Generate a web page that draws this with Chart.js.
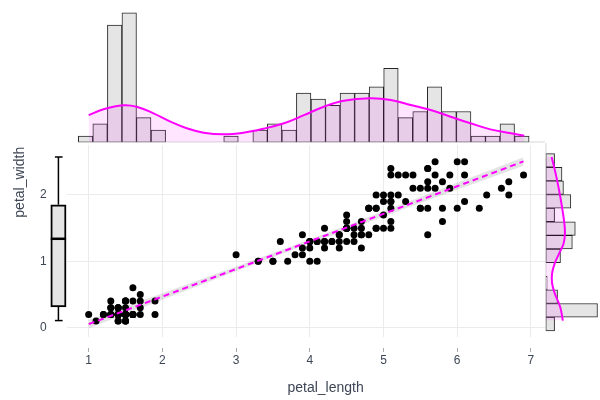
<!DOCTYPE html>
<html>
<head>
<meta charset="utf-8">
<script src="https://cdn.jsdelivr.net/npm/chart.js@4.4.1/dist/chart.umd.min.js"></script>
<style>
  body { margin: 0; background: #fff; }
  #wrap { position: relative; width: 600px; height: 400px; }
  canvas { position: absolute; }
  #main { left: 0; top: 0; }
  #top { left: 60px; top: 0; background: #fff; }
  #right { left: 545px; top: 143px; background: #fff; }
  #box { left: 45px; top: 145px; }
</style>
</head>
<body>
<div id="wrap">
  <canvas id="main" width="600" height="400"></canvas>
  <canvas id="top" width="540" height="145"></canvas>
  <canvas id="right" width="55" height="194"></canvas>
  <canvas id="box" width="22" height="192"></canvas>
</div>
<script>
// iris petals
const petalLength = [
  1.4,1.4,1.3,1.5,1.4,1.7,1.4,1.5,1.4,1.5, 1.5,1.6,1.4,1.1,1.2,1.5,1.3,1.4,1.7,1.5,
  1.7,1.5,1.0,1.7,1.9,1.6,1.6,1.5,1.4,1.6, 1.6,1.5,1.5,1.4,1.5,1.2,1.3,1.4,1.3,1.5,
  1.3,1.3,1.3,1.6,1.9,1.4,1.6,1.4,1.5,1.4,
  4.7,4.5,4.9,4.0,4.6,4.5,4.7,3.3,4.6,3.9, 3.5,4.2,4.0,4.7,3.6,4.4,4.5,4.1,4.5,3.9,
  4.8,4.0,4.9,4.7,4.3,4.4,4.8,5.0,4.5,3.5, 3.8,3.7,3.9,5.1,4.5,4.5,4.7,4.4,4.1,4.0,
  4.4,4.6,4.0,3.3,4.2,4.2,4.2,4.3,3.0,4.1,
  6.0,5.1,5.9,5.6,5.8,6.6,4.5,6.3,5.8,6.1, 5.1,5.3,5.5,5.0,5.1,5.3,5.5,6.7,6.9,5.0,
  5.7,4.9,6.7,4.9,5.7,6.0,4.8,4.9,5.6,5.8, 6.1,6.4,5.6,5.1,5.6,6.1,5.6,5.5,4.8,5.4,
  5.6,5.1,5.1,5.9,5.7,5.2,5.0,5.2,5.4,5.1
];
const petalWidth = [
  0.2,0.2,0.2,0.2,0.2,0.4,0.3,0.2,0.2,0.1, 0.2,0.2,0.1,0.1,0.2,0.4,0.4,0.3,0.3,0.3,
  0.2,0.4,0.2,0.5,0.2,0.2,0.4,0.2,0.2,0.2, 0.2,0.4,0.1,0.2,0.1,0.2,0.2,0.1,0.2,0.2,
  0.3,0.3,0.2,0.6,0.4,0.3,0.2,0.2,0.2,0.2,
  1.4,1.5,1.5,1.3,1.5,1.3,1.6,1.0,1.3,1.4, 1.0,1.5,1.0,1.4,1.3,1.4,1.5,1.0,1.5,1.1,
  1.8,1.3,1.5,1.2,1.3,1.4,1.4,1.7,1.5,1.0, 1.1,1.0,1.2,1.6,1.5,1.6,1.5,1.3,1.3,1.3,
  1.2,1.4,1.2,1.0,1.3,1.2,1.3,1.3,1.1,1.3,
  2.5,1.9,2.1,1.8,2.2,2.1,1.7,1.8,1.8,2.5, 2.0,1.9,2.1,2.0,2.4,2.3,1.8,2.2,2.3,1.5,
  2.3,2.0,2.0,1.8,2.1,1.8,1.8,1.8,2.1,1.6, 1.9,2.0,2.2,1.5,1.4,2.3,2.4,1.8,1.8,2.1,
  2.4,2.3,1.9,2.3,2.5,2.3,1.9,2.0,2.3,1.8
];

// trend line and its confidence band
const fitX = [1.0, 6.9];
const fitY = [0.053, 2.506];
const bandX = [1.0, 2.0, 3.0, 3.76, 4.5, 5.5, 6.9];
const bandLow = [-0.01, 0.42, 0.85, 1.17, 1.47, 1.88, 2.44];
const bandHigh = [0.12, 0.52, 0.92, 1.23, 1.54, 1.97, 2.57];

// top histogram (petal_length)
const lengthBins = [0.958,1.155,1.353,1.550,1.747,1.945,2.142,2.339,2.536,2.734,2.931,
  3.128,3.326,3.523,3.720,3.917,4.115,4.312,4.509,4.707,4.904,5.101,5.298,5.496,
  5.693,5.890,6.088,6.285,6.482,6.679,6.877];
const lengthCounts = [1,3,19,21,4,2,0,0,0,0,1,0,2,3,2,8,7,6,8,8,9,12,4,5,9,5,5,1,1,3,1];
const lengthKdeX = [1.0,1.2,1.47,1.65,1.88,2.11,2.33,2.56,2.83,3.1,3.37,3.65,3.92,4.19,
  4.46,4.82,5.1,5.37,5.64,5.91,6.18,6.45,6.73,6.91];
const lengthKdeY = [4.4,5.35,6.0,5.77,4.7,3.35,2.27,1.56,1.3,1.56,2.2,3.08,4.4,5.77,
  6.74,7.13,6.86,6.05,5.24,4.15,3.08,2.1,1.46,1.07];

// right histogram (petal_width)
const widthBins = [0.05,0.25,0.45,0.65,0.85,1.05,1.25,1.45,1.65,1.85,2.05,2.25,2.45];
const widthCounts = [6,35,8,1,0,10,18,20,6,17,12,11,6];
const widthKdeY = [2.5,2.26,2.02,1.77,1.53,1.38,1.23,1.09,0.94,0.79,0.65,0.5,0.3,0.1];
const widthKdeX = [4.0,6.7,9.0,11.0,12.6,13.0,12.1,9.2,6.1,4.3,4.3,6.1,9.8,11.6];

// box plot of petal_width: min, q1, median, q3, max
const boxStats = [0.1, 0.3, 1.3, 1.8, 2.5];

const X_MIN = 0.706, X_MAX = 7.723;
const Y_MIN = -0.141, Y_MAX = 4.525;
const MAGENTA = '#ff00ff';
const PINK = 'rgba(255,0,255,0.1)';
const BAR_FILL = '#e5e5e5';
const BAR_LINE = 'rgba(0,0,0,0.85)';
const TXT = '#3d4654';
const GRID = '#ebebeb';

Chart.defaults.font.family = "'Liberation Sans', Arial, sans-serif";
Chart.defaults.animation = false;
Chart.defaults.responsive = false;
Chart.defaults.events = [];
Chart.defaults.plugins.legend.display = false;
Chart.defaults.plugins.tooltip.enabled = false;

const pts = petalLength.map((x, i) => ({ x: x, y: petalWidth[i] }));

new Chart(document.getElementById('main'), {
  type: 'scatter',
  data: {
    datasets: [
      { type: 'line', data: bandX.map((x, i) => ({ x, y: bandLow[i] })),
        borderColor: 'rgba(0,0,0,0)', pointRadius: 0, fill: false, order: 4 },
      { type: 'line', data: bandX.map((x, i) => ({ x, y: bandHigh[i] })),
        borderColor: 'rgba(0,0,0,0)', pointRadius: 0, fill: '-1',
        backgroundColor: 'rgba(0,0,0,0.11)', order: 3 },
      { data: pts, pointRadius: 3.5, backgroundColor: '#000', borderWidth: 0, order: 2 },
      { type: 'line', data: fitX.map((x, i) => ({ x, y: fitY[i] })),
        borderColor: MAGENTA, borderWidth: 2, borderDash: [6, 4], pointRadius: 0, order: 1 }
    ]
  },
  options: {
    layout: { padding: { left: 0, top: 19, right: 15.8, bottom: 0 } },
    scales: {
      x: {
        type: 'linear', min: X_MIN, max: X_MAX,
        afterFit: s => { s.height = 63; },
        ticks: { stepSize: 1, includeBounds: false, padding: 1, color: TXT, font: { size: 12 } },
        grid: { color: GRID, tickColor: '#aaa', tickLength: 15, tickBorderDash: [4, 11], tickBorderDashOffset: 4 },
        border: { display: false },
        title: { display: true, text: 'petal_length', color: TXT, font: { size: 14 }, padding: { top: 0, bottom: 3.6 } }
      },
      y: {
        type: 'linear', min: Y_MIN, max: Y_MAX,
        afterFit: s => { s.width = 67; },
        afterBuildTicks: s => { s.ticks = s.ticks.filter(t => t.value <= 2.6); },
        ticks: { stepSize: 1, includeBounds: false, padding: 20.3, color: TXT, font: { size: 12 } },
        grid: { color: GRID, drawTicks: false },
        border: { display: false },
        title: { display: true, text: 'petal_width', color: TXT, font: { size: 14 }, padding: { top: 11.6, bottom: 0 } }
      }
    }
  }
});

new Chart(document.getElementById('top'), {
  type: 'bar',
  data: {
    datasets: [
      { type: 'line', data: [{ x: 0.86, y: 0 }, { x: 7.19, y: 0 }],
        borderColor: '#999', borderWidth: 1, pointRadius: 0, order: 0 },
      { type: 'line', data: lengthKdeX.map((x, i) => ({ x, y: lengthKdeY[i] })),
        borderColor: MAGENTA, borderWidth: 2, backgroundColor: PINK, fill: 'origin',
        pointRadius: 0, tension: 0.4, order: 1 },
      { type: 'bar', data: lengthBins.map((x, i) => ({ x, y: lengthCounts[i] })),
        backgroundColor: BAR_FILL, borderColor: BAR_LINE, borderWidth: 1, borderSkipped: false,
        barPercentage: 1, categoryPercentage: 1, order: 2 }
    ]
  },
  options: {
    layout: { padding: { left: 7, right: 15.8, top: 6, bottom: 2.7 } },
    scales: {
      x: { type: 'linear', min: X_MIN, max: X_MAX, offset: false, display: false },
      y: { type: 'linear', min: 0, max: 22.1, display: false }
    }
  }
});

new Chart(document.getElementById('right'), {
  type: 'bar',
  data: {
    datasets: [
      { type: 'line', data: [{ x: 0, y: -0.05 }, { x: 0, y: 2.706 }],
        borderColor: '#999', borderWidth: 1, pointRadius: 0, order: 0 },
      { type: 'line', indexAxis: 'y', data: widthKdeY.map((y, i) => ({ x: widthKdeX[i], y })),
        borderColor: MAGENTA, borderWidth: 2, backgroundColor: PINK, fill: 'origin',
        pointRadius: 0, tension: 0.4, order: 1 },
      { type: 'bar', indexAxis: 'y', data: widthBins.map((y, i) => ({ x: widthCounts[i], y })),
        backgroundColor: BAR_FILL, borderColor: BAR_LINE, borderWidth: 1, borderSkipped: false,
        barPercentage: 1, categoryPercentage: 1, order: 2 }
    ]
  },
  options: {
    indexAxis: 'y',
    layout: { padding: { left: 0.7 } },
    scales: {
      x: { type: 'linear', min: 0, max: 36.7, offset: false, display: false },
      y: { type: 'linear', min: Y_MIN, max: 2.706, offset: false, display: false }
    }
  }
});

const seg = (x1, y1, x2, y2, w) => ({
  type: 'line', data: [{ x: x1, y: y1 }, { x: x2, y: y2 }],
  borderColor: '#000', borderWidth: w, pointRadius: 0, order: 0
});

new Chart(document.getElementById('box'), {
  type: 'bar',
  data: {
    datasets: [
      seg(0.262, boxStats[2], 0.958, boxStats[2], 2.5),
      seg(0.61, boxStats[3], 0.61, boxStats[4], 1.5),
      seg(0.61, boxStats[1], 0.61, boxStats[0], 1.5),
      seg(0.45, boxStats[4], 0.8, boxStats[4], 1.5),
      seg(0.45, boxStats[0], 0.8, boxStats[0], 1.5),
      { type: 'bar', data: [{ x: 0.61, y: [boxStats[1], boxStats[3]] }], barThickness: 15.3,
        backgroundColor: BAR_FILL, borderColor: '#000', borderWidth: 2, borderSkipped: false, order: 1 }
    ]
  },
  options: {
    scales: {
      x: { type: 'linear', min: 0, max: 1, offset: false, display: false },
      y: { type: 'linear', min: Y_MIN, max: 2.676, display: false }
    }
  }
});
</script>
</body>
</html>
